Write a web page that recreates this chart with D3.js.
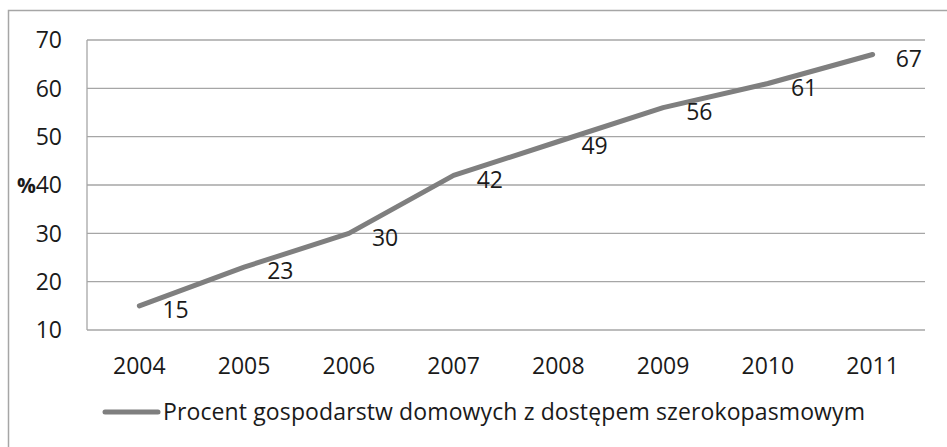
<!DOCTYPE html>
<html lang="pl">
<head>
  <meta charset="UTF-8">
  <title>Procent gospodarstw domowych z dostępem szerokopasmowym</title>
  <script src="https://d3js.org/d3.v7.min.js"></script>
  <style>
    body { margin: 0; background: #fff; }
    svg { display: block; font-family: "Open Sans", sans-serif; }
  </style>
</head>
<body>
  <svg></svg>
  <script>
    const lata = ["2004", "2005", "2006", "2007", "2008", "2009", "2010", "2011"];
    const procent = [15, 23, 30, 42, 49, 56, 61, 67];
    const yTicks = [10, 20, 30, 40, 50, 60, 70];
    const seriaNazwa = "Procent gospodarstw domowych z dostępem szerokopasmowym";

    const width = 947, height = 447;
    const plot = { left: 87, right: 925, top: 40, bottom: 330 };
    const fs = 23;
    const kolorTekstu = "#1a1a1a";

    const svg = d3.select("svg")
      .attr("width", width)
      .attr("height", height);

    // ramka wykresu
    svg.append("rect")
      .attr("x", 8.5).attr("y", 10.5)
      .attr("width", 950).attr("height", 450)
      .attr("fill", "none")
      .attr("stroke", "#a6a6a6")
      .attr("stroke-width", 1.5);

    const x = d3.scaleBand()
      .domain(lata)
      .range([plot.left, plot.right]);

    const y = d3.scaleLinear()
      .domain([10, 70])
      .range([plot.bottom, plot.top]);

    // linie siatki
    svg.append("g")
      .selectAll("line")
      .data(yTicks)
      .join("line")
      .attr("x1", plot.left).attr("x2", plot.right)
      .attr("y1", d => y(d)).attr("y2", d => y(d))
      .attr("stroke", "#a6a6a6")
      .attr("stroke-width", 1.3);

    svg.append("line")
      .attr("x1", plot.left).attr("x2", plot.left)
      .attr("y1", plot.top).attr("y2", plot.bottom)
      .attr("stroke", "#a6a6a6")
      .attr("stroke-width", 1.3);

    // opisy osi Y
    svg.append("g")
      .selectAll("text")
      .data(yTicks)
      .join("text")
      .attr("x", 62)
      .attr("y", d => y(d))
      .attr("dy", "0.36em")
      .attr("text-anchor", "end")
      .attr("font-size", fs)
      .attr("fill", kolorTekstu)
      .text(d => d);

    svg.append("text")
      .attr("x", 36)
      .attr("y", y(40))
      .attr("dy", "0.38em")
      .attr("text-anchor", "end")
      .attr("font-size", 21)
      .attr("font-weight", "bold")
      .attr("fill", kolorTekstu)
      .text("%");

    // opisy osi X
    svg.append("g")
      .selectAll("text")
      .data(lata)
      .join("text")
      .attr("x", d => x(d) + x.bandwidth() / 2)
      .attr("y", 366)
      .attr("dy", "0.36em")
      .attr("text-anchor", "middle")
      .attr("font-size", fs)
      .attr("fill", kolorTekstu)
      .text(d => d);

    // linia serii
    const line = d3.line()
      .x((d, i) => x(lata[i]) + x.bandwidth() / 2)
      .y(d => y(d));

    svg.append("path")
      .datum(procent)
      .attr("d", line)
      .attr("fill", "none")
      .attr("stroke", "#7f7f7f")
      .attr("stroke-width", 5)
      .attr("stroke-linecap", "round")
      .attr("stroke-linejoin", "round");

    // etykiety danych
    svg.append("g")
      .selectAll("text")
      .data(procent)
      .join("text")
      .attr("x", (d, i) => x(lata[i]) + x.bandwidth() / 2 + 23)
      .attr("y", d => y(d) + 4)
      .attr("dy", "0.36em")
      .attr("font-size", fs)
      .attr("fill", kolorTekstu)
      .text(d => d);

    // legenda
    const legenda = svg.append("g");
    legenda.append("line")
      .attr("x1", 105).attr("x2", 158)
      .attr("y1", 412).attr("y2", 412)
      .attr("stroke", "#7f7f7f")
      .attr("stroke-width", 5)
      .attr("stroke-linecap", "round");
    legenda.append("text")
      .attr("x", 163)
      .attr("y", 412)
      .attr("dy", "0.36em")
      .attr("font-size", fs)
      .attr("textLength", 702)
      .attr("lengthAdjust", "spacing")
      .attr("fill", kolorTekstu)
      .text(seriaNazwa);
  </script>
</body>
</html>
